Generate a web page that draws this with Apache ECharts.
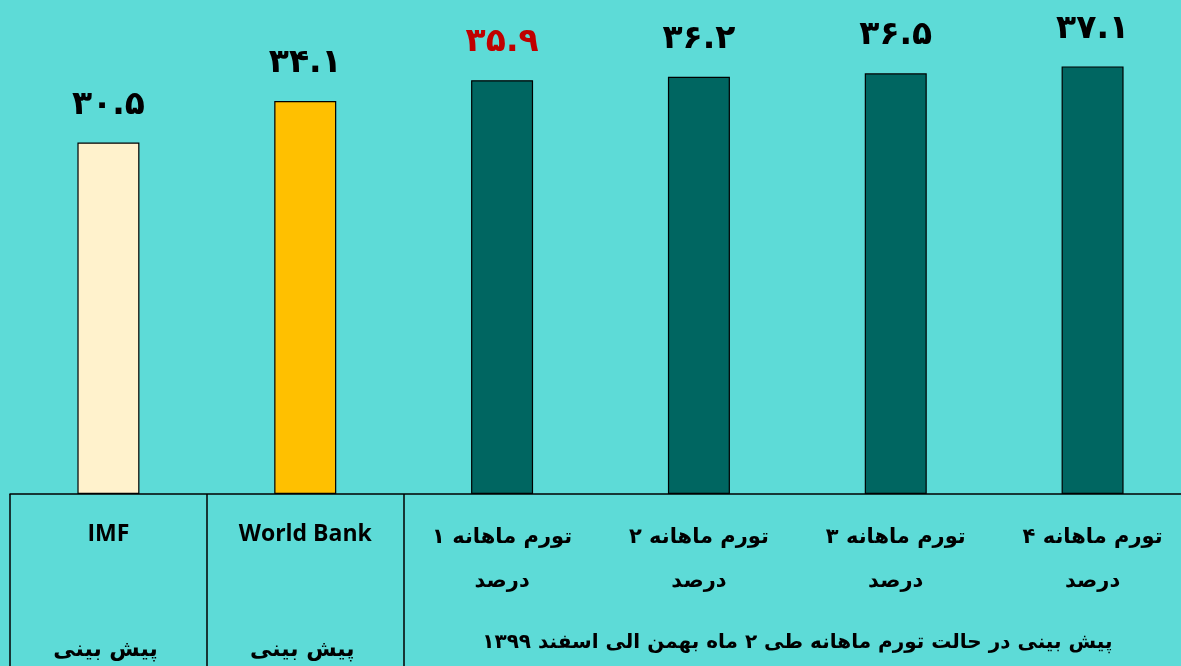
<!DOCTYPE html>
<html>
<head>
<meta charset="utf-8">
<script src="https://cdn.jsdelivr.net/npm/echarts@6/dist/echarts.min.js"></script>
<style>
html,body{margin:0;padding:0;background:#5ddbd7;overflow:hidden;}
#chart{width:1192px;height:666px;}
</style>
</head>
<body>
<div id="chart"></div>
<script>
// ---- data ----
var categories = ['IMF', 'World Bank', 'تورم ماهانه ۱\nدرصد', 'تورم ماهانه ۲\nدرصد', 'تورم ماهانه ۳\nدرصد', 'تورم ماهانه ۴\nدرصد'];
var values = [30.5, 34.1, 35.9, 36.2, 36.5, 37.1];
var barColors = ['#fff2cc', '#ffc000', '#006661', '#006661', '#006661', '#006661'];
var labelColors = ['#000000', '#000000', '#c00000', '#000000', '#000000', '#000000'];
var rowTwoLabels = ['پیش بینی', 'پیش بینی'];
var groupLabel = 'پیش بینی در حالت تورم ماهانه طی ۲ ماه بهمن الی اسفند ۱۳۹۹';

var faDigits = '۰۱۲۳۴۵۶۷۸۹';
function toFa(v) {
  return String(v).replace(/[0-9]/g, function (d) { return faDigits[+d]; });
}

var chart = echarts.init(document.getElementById('chart'));
var option = {
  backgroundColor: '#5ddbd7',
  animation: false,
  grid: { left: 10, top: 33, width: 1181, height: 461 },
  xAxis: {
    type: 'category',
    data: categories,
    axisLine: { show: true, lineStyle: { color: '#000', width: 1.5 } },
    axisTick: {
      show: true,
      length: 175,
      lineStyle: { color: '#000', width: 1.5 },
      interval: function (index) { return index <= 2; }
    },
    axisLabel: {
      color: '#000',
      margin: 18,
      verticalAlign: 'top',
      interval: 0,
      formatter: function (v) {
        return /[A-Za-z]/.test(v) ? '{lat|' + v + '}' : v.split('\n').map(function (s) { return '{fa|' + s + '}'; }).join('\n');
      },
      rich: {
        lat: { fontFamily: 'Open Sans, sans-serif', fontWeight: 'bold', fontSize: 23, lineHeight: 44, color: '#000' },
        fa: { fontFamily: 'DejaVu Sans, sans-serif', fontWeight: 'bold', fontSize: 21, lineHeight: 44, color: '#000', padding: [8, 0, 0, 0] }
      }
    }
  },
  yAxis: {
    type: 'value',
    min: 0,
    max: 40,
    show: false,
    splitLine: { show: false }
  },
  series: [{
    type: 'bar',
    barWidth: 62,
    data: values.map(function (v, i) {
      return {
        value: v,
        itemStyle: { color: barColors[i], borderColor: '#000', borderWidth: 1.2 },
        label: { color: labelColors[i] }
      };
    }),
    label: {
      show: true,
      position: 'top',
      distance: 21,
      fontFamily: 'DejaVu Sans, sans-serif',
      fontWeight: 'bold',
      fontSize: 33,
      formatter: function (p) { return toFa(p.value); }
    }
  }]
};
chart.setOption(option);

// second row of the table, placed from the axis scale
var graphics = [];
rowTwoLabels.forEach(function (t, i) {
  var x = chart.convertToPixel({ xAxisIndex: 0 }, i);
  graphics.push({
    type: 'text', x: x - 3, y: 650,
    style: { text: t, fill: '#000', font: 'bold 22px "DejaVu Sans", sans-serif', align: 'center', verticalAlign: 'middle' }
  });
});
var gx = 0;
for (var k = 2; k < categories.length; k++) gx += chart.convertToPixel({ xAxisIndex: 0 }, k);
gx /= (categories.length - 2);
graphics.push({
  type: 'text', x: gx, y: 643,
  style: { text: groupLabel, fill: '#000', font: 'bold 20px "DejaVu Sans", sans-serif', align: 'center', verticalAlign: 'middle' }
});
chart.setOption({ graphic: graphics });
</script>
</body>
</html>
